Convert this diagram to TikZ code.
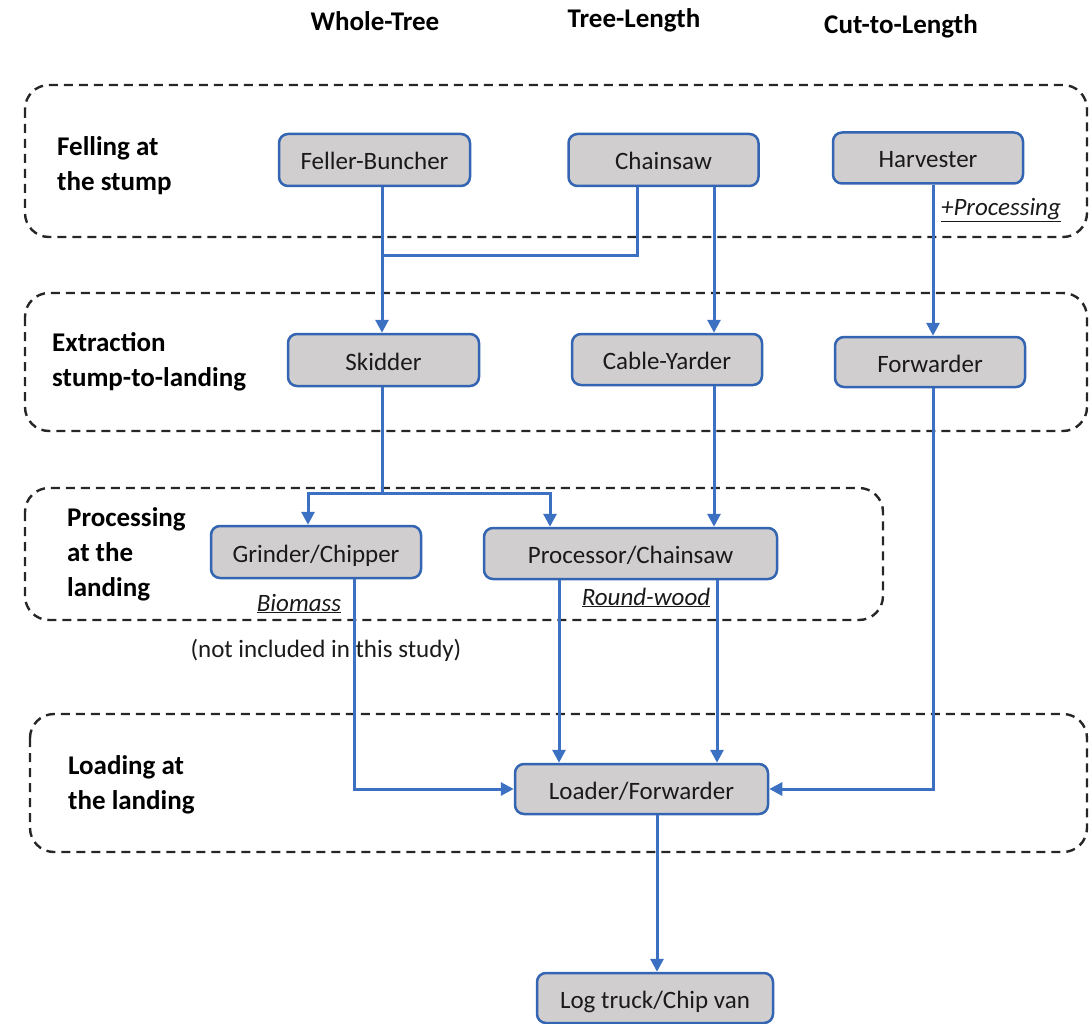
\documentclass[tikz,border=0pt]{standalone}
\usepackage{fontspec}
\setmainfont{Carlito}
\usetikzlibrary{arrows.meta}
\definecolor{lineblue}{HTML}{3C70C2}
\definecolor{edgeblue}{HTML}{3465B2}
\definecolor{boxgray}{HTML}{D0CECE}
\definecolor{dashgray}{HTML}{262626}
\definecolor{ink}{HTML}{1A1A1A}
\begin{document}
\begin{tikzpicture}[x=1pt,y=-1pt,
  stage/.style={draw=edgeblue, fill=boxgray, line width=2.5pt, rounded corners=9pt,
    inner sep=0pt, text height=24pt, text depth=4pt, text=ink,
    font=\fontsize{25}{30}\selectfont},
  group/.style={draw=dashgray, line width=2.4pt, dash pattern=on 9pt off 6pt, rounded corners=24pt},
  conn/.style={draw=lineblue, line width=3pt, -{Triangle[length=13pt,width=13pt]}},
  plainline/.style={draw=lineblue, line width=3pt},
  grouplabel/.style={font=\fontsize{27}{35}\selectfont\bfseries, align=left, anchor=base west, inner sep=0pt, text=black},
  header/.style={font=\fontsize{27}{30}\selectfont\bfseries, anchor=base, inner sep=0pt, text=black},
  note/.style={font=\fontsize{25}{30}\selectfont, anchor=base, inner sep=0pt, text=ink}]
\useasboundingbox (0,0) rectangle (1092,1024);

% headers
\node[header] (hwt) at (375,31) {Whole-Tree};
\node[header] (htl) at (634,28) {Tree-Length};
\node[header] (hcl) at (901,34) {Cut-to-Length};

% dashed stage groups
\draw[group] (25,85) rectangle (1087,237);
\draw[group] (25,293) rectangle (1087,431);
\draw[group] (25,488) rectangle (883,620);
\draw[group] (30,714) rectangle (1087,852);

% group labels (anchor = baseline of last line)
\node[grouplabel] (lfell) at (57,191) {Felling at\\the stump};
\node[grouplabel] (lext) at (52,386) {Extraction\\stump-to-landing};
\node[grouplabel] (lproc) at (67,596) {Processing\\at the\\landing};
\node[grouplabel] (lload) at (68,809) {Loading at\\the landing};

% machines
\node[stage, minimum width=191pt, minimum height=52pt] (fb) at (374.5,160) {Feller-Buncher};
\node[stage, minimum width=190pt, minimum height=52pt] (cs) at (663.5,160) {Chainsaw};
\node[stage, minimum width=190pt, minimum height=51pt] (hv) at (928,158) {Harvester};
\node[stage, minimum width=191pt, minimum height=52pt] (sk) at (383.5,360) {Skidder};
\node[stage, minimum width=190pt, minimum height=51pt] (cy) at (667,359.5) {Cable-Yarder};
\node[stage, minimum width=190pt, minimum height=50pt] (fw) at (930,362) {Forwarder};
\node[stage, minimum width=210pt, minimum height=52pt] (gc) at (316,552) {Grinder/Chipper};
\node[stage, minimum width=293pt, minimum height=51pt] (pc) at (630.5,553.5) {Processor/Chainsaw};
\node[stage, minimum width=253pt, minimum height=50pt] (lf) at (641.5,789) {Loader/Forwarder};
\node[stage, minimum width=236pt, minimum height=50pt] (lt) at (655,998) {Log truck/Chip van};

% notes
\node[note] (nproc) at (1001,216) {\underline{\textit{+Processing}}};
\node[note] (nbio) at (299,611) {\underline{\textit{Biomass}}};
\node[note] (nround) at (646,605) {\underline{\textit{Round-wood}}};
\node[note] (nnot) at (326,657) {(not included in this study)};

% column / row coordinates
\coordinate (xa) at (382,0);
\coordinate (xb) at (637,0);
\coordinate (xc) at (714,0);
\coordinate (xd) at (933,0);
\coordinate (xe) at (308,0);
\coordinate (xf) at (550,0);
\coordinate (xg) at (354,0);
\coordinate (xh) at (559,0);
\coordinate (xi) at (717,0);
\coordinate (xj) at (657,0);
\coordinate (ya) at (0,256);
\coordinate (yb) at (0,493);

% connectors
\draw[conn] (fb.south -| xa) -- (sk.north -| xa);
\draw[plainline] (cs.south -| xb) -- (xb |- ya) -- (xa |- ya);
\draw[conn] (cs.south -| xc) -- (cy.north -| xc);
\draw[conn] (hv.south -| xd) -- (fw.north -| xd);
\draw[plainline] (sk.south -| xa) -- (xa |- yb);
\draw[conn] (xa |- yb) -| (gc.north -| xe);
\draw[conn] (xa |- yb) -| (pc.north -| xf);
\draw[conn] (cy.south -| xc) -- (pc.north -| xc);
\draw[conn] (gc.south -| xg) |- (lf.west);
\draw[conn] (pc.south -| xh) -- (lf.north -| xh);
\draw[conn] (pc.south -| xi) -- (lf.north -| xi);
\draw[conn] (fw.south -| xd) |- (lf.east);
\draw[conn] (lf.south -| xj) -- (lt.north -| xj);
\end{tikzpicture}
\end{document}
